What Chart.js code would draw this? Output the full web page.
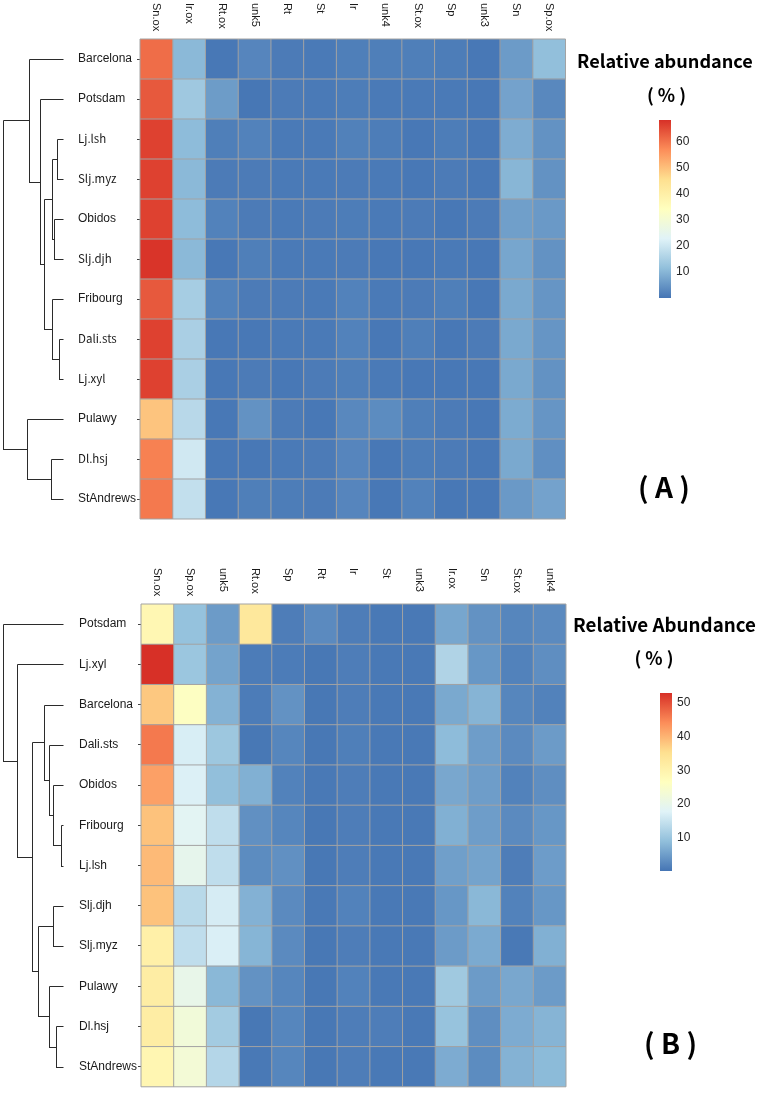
<!DOCTYPE html>
<html><head><meta charset="utf-8">
<script src="https://cdn.jsdelivr.net/npm/chart.js@4.4.1/dist/chart.umd.min.js"></script>
<style>
html,body{margin:0;padding:0;background:#fff;}
#wrap{position:relative;width:760px;height:1094px;overflow:hidden;}
canvas{position:absolute;left:0;display:block;}
#cA{top:0;} #cB{top:547px;}
</style></head><body>
<div id="wrap"><canvas id="cA" width="760" height="547"></canvas><canvas id="cB" width="760" height="547"></canvas></div>
<script>
// ---------- Panel A data ----------
const colsA = ['Sn.ox','Ir.ox','Rt.ox','unk5','Rt','St','Ir','unk4','St.ox','Sp','unk3','Sn','Sp.ox'];
const rowsA = ['Barcelona','Potsdam','Lj.lsh','Slj.myz','Obidos','Slj.djh','Fribourg','Dali.sts','Lj.xyl','Pulawy','Dl.hsj','StAndrews'];
const a_Barcelona = [61, 10.5, 0.5, 2.5, 1, 0.8, 1.5, 1.5, 1.5, 1.2, 0.5, 5.8, 11.5];
const a_Potsdam   = [63.5, 13.5, 6, 0.3, 1, 0.8, 1.2, 0.8, 0.8, 0.8, 0.5, 7, 3];
const a_Ljlsh     = [66.4, 11, 1.5, 2, 0.8, 0.8, 1.8, 1.2, 0.5, 1.2, 0.5, 8.5, 4.5];
const a_Sljmyz    = [66.4, 10.5, 1, 1, 0.8, 0.8, 1, 0.8, 0.5, 1, 0.5, 10, 4.5];
const a_Obidos    = [66.4, 11, 2, 1, 0.8, 1, 1.2, 0.8, 1, 0.5, 1, 6.5, 5.5];
const a_Sljdjh    = [68, 10.5, 0.5, 1.5, 0.8, 0.8, 1, 0.5, 0.5, 0.8, 0.5, 7.5, 4.5];
const a_Fribourg  = [63.5, 14.5, 2, 1, 1, 0.8, 2, 0.8, 1, 1.5, 0.5, 8, 5];
const a_Dalists   = [66.4, 15, 0.5, 0.5, 0.8, 0.8, 2, 0.5, 1.5, 0.5, 1, 8, 5];
const a_Ljxyl     = [66.4, 15, 0.5, 1, 0.5, 1, 1.5, 0.8, 0.5, 0.5, 0.5, 8, 4.5];
const a_Pulawy    = [49.5, 17, 0.5, 4.5, 1, 0.5, 3, 3.5, 1.5, 1, 0.5, 8.3, 5];
const a_Dlhsj     = [58.6, 20.5, 0.5, 0.5, 0.8, 1, 2.5, 0.5, 1.2, 1, 0.5, 8, 4];
const a_StAndrews = [59.5, 18.5, 0.5, 1.5, 1.2, 1, 2.5, 0.5, 2, 0.5, 0.5, 5.5, 7];
const valuesA = [a_Barcelona,a_Potsdam,a_Ljlsh,a_Sljmyz,a_Obidos,a_Sljdjh,a_Fribourg,a_Dalists,a_Ljxyl,a_Pulawy,a_Dlhsj,a_StAndrews];
// hclust-style merges (negative = leaf, positive = earlier cluster) and heights
const mergeA  = [[-3,-4],[-5,-6],[-8,-9],[1,2],[-7,3],[-11,-12],[4,5],[-2,7],[-1,8],[-10,6],[9,10]];
const heightA = [5.7, 9, 4, 11.3, 11.3, 12.3, 19.3, 22.7, 34, 36.3, 60.5];
const legendTicksA = [10,20,30,40,50,60];
const legendRangeA = [0, 68.5];

// ---------- Panel B data ----------
const colsB = ['Sn.ox','Sp.ox','unk5','Rt.ox','Sp','Rt','Ir','St','unk3','Ir.ox','Sn','St.ox','unk4'];
const rowsB = ['Potsdam','Lj.xyl','Barcelona','Dali.sts','Obidos','Fribourg','Lj.lsh','Slj.djh','Slj.myz','Pulawy','Dl.hsj','StAndrews'];
const b_Potsdam   = [28.8, 9.3, 4.5, 33, 1, 2.5, 1, 0.5, 0.5, 5.8, 3.5, 2, 2.5];
const b_Ljxyl     = [53, 10, 5.5, 0.8, 0.8, 0.3, 1, 0.5, 0.5, 12.3, 4, 1.5, 3];
const b_Barcelona = [37.9, 26, 7.3, 0.8, 3.5, 0.3, 1, 0.5, 0.5, 6.2, 7.5, 2, 1.5];
const b_Dalists   = [46.1, 16.8, 10.2, 0.3, 2, 0.3, 1.2, 0.5, 0.5, 8.5, 4.8, 2.5, 4.5];
const b_Obidos    = [42.1, 17.2, 8.9, 7, 1.5, 0.5, 1, 0.5, 0.5, 6, 4.8, 1.5, 3];
const b_Fribourg  = [38.5, 18.5, 14, 3.2, 2, 0.3, 1, 0.5, 0.5, 7, 4.8, 2.5, 4];
const b_Ljlsh     = [39.4, 19.5, 14, 2.7, 3.2, 0.3, 1, 0.5, 0.5, 5, 5.5, 1, 4.7];
const b_Sljdjh    = [38.5, 13.2, 16.5, 7.2, 2.5, 0.5, 1.5, 0.5, 0.5, 4, 8, 1.5, 4];
const b_Sljmyz    = [30.8, 14, 17, 7.6, 2.5, 0.3, 1, 0.5, 0.5, 4.5, 6.3, 0.5, 7];
const b_Pulawy    = [31.5, 20, 8, 3.5, 2, 0.3, 1.5, 0.5, 0.5, 10.5, 4.5, 6, 4.5];
const b_Dlhsj     = [31.5, 22.5, 10.8, 0.3, 2, 0.3, 1, 1, 0.5, 9.5, 3, 6.5, 7.5];
const b_StAndrews = [29, 23, 12.8, 0.5, 2, 0.3, 1, 0.5, 0.5, 6.5, 2.7, 7.3, 8.3];
const valuesB = [b_Potsdam,b_Ljxyl,b_Barcelona,b_Dalists,b_Obidos,b_Fribourg,b_Ljlsh,b_Sljdjh,b_Sljmyz,b_Pulawy,b_Dlhsj,b_StAndrews];
const mergeB  = [[-6,-7],[-11,-12],[-8,-9],[-5,1],[-4,4],[-10,2],[-3,5],[3,6],[7,8],[-2,9],[-1,10]];
const heightB = [2, 7, 9.7, 9.7, 13.7, 13.7, 19.3, 25.3, 30.7, 45.7, 60.5];
const legendTicksB = [10,20,30,40,50];
const legendRangeB = [0, 53];

// ---------- colour scale (rev RdYlBu, 7) ----------
const palette = ['#4575B4','#91BFDB','#E0F3F8','#FFFFBF','#FEE090','#FC8D59','#D73027'];
function hex2rgb(h){return [parseInt(h.slice(1,3),16),parseInt(h.slice(3,5),16),parseInt(h.slice(5,7),16)];}
const palRGB = palette.map(hex2rgb);
function colorFor(v, range){
  let t = (v - range[0]) / (range[1] - range[0]);
  t = Math.max(0, Math.min(1, t));
  const p = t * (palRGB.length - 1);
  const i = Math.min(palRGB.length - 2, Math.floor(p));
  const f = p - i;
  const a = palRGB[i], b = palRGB[i+1];
  const c = a.map((x,k)=>Math.round(x + (b[k]-x)*f));
  return `rgb(${c[0]},${c[1]},${c[2]})`;
}

function fitFont(ctx, text, weight, family, maxSize, target){
  ctx.font = `${weight} 20px ${family}`;
  const w = ctx.measureText(text).width;
  const s = Math.min(maxSize, 20 * target / w);
  return `${weight} ${s.toFixed(2)}px ${family}`;
}

const heatPlugin = {
  id: 'heat',
  afterDatasetsDraw(chart, args, o){
    const {ctx, chartArea: ca, scales: {x, y}} = chart;
    const nC = o.cols.length, nR = chart.data.labels.length;
    ctx.save();
    // cell borders
    ctx.strokeStyle = '#A3A3A3'; ctx.lineWidth = 1;
    ctx.beginPath();
    for (let c = 0; c <= nC; c++){ const px = x.getPixelForValue(c); ctx.moveTo(px, ca.top); ctx.lineTo(px, ca.bottom); }
    for (let r = 0; r <= nR; r++){ const py = y.getPixelForValue(r - 0.5); ctx.moveTo(ca.left, py); ctx.lineTo(ca.right, py); }
    ctx.stroke();
    ctx.restore();
  },
  afterDraw(chart, args, o){
    const {ctx, chartArea: ca, scales: {x, y}} = chart;
    ctx.save();
    // column labels (rotated, reading downward)
    ctx.fillStyle = '#1a1a1a';
    ctx.font = '11px "Liberation Sans", Arial, sans-serif';
    ctx.textAlign = 'left'; ctx.textBaseline = 'middle';
    o.cols.forEach((c, i) => {
      const px = x.getPixelForValue(i + 0.5);
      ctx.save(); ctx.translate(px, ca.top - o.colLabelGap); ctx.rotate(Math.PI / 2);
      ctx.fillText(c, 0, 0); ctx.restore();
    });
    // dendrogram
    const leafX = ca.left - o.dendroGap;
    const pos = [];
    const node = id => id < 0 ? {x: leafX, y: y.getPixelForValue(-id - 1)} : pos[id - 1];
    const snap = v => Math.round(v) + 0.5;
    ctx.strokeStyle = '#2b2b2b'; ctx.lineWidth = 1;
    ctx.beginPath();
    o.merges.forEach((m, k) => {
      const a = node(m[0]), b = node(m[1]);
      const hx = leafX - o.heights[k] * o.dendroUnit;
      ctx.moveTo(snap(a.x), snap(a.y)); ctx.lineTo(snap(hx), snap(a.y));
      ctx.moveTo(snap(b.x), snap(b.y)); ctx.lineTo(snap(hx), snap(b.y));
      ctx.moveTo(snap(hx), snap(a.y)); ctx.lineTo(snap(hx), snap(b.y) + 0.5);
      pos[k] = {x: hx, y: (a.y + b.y) / 2};
    });
    ctx.stroke();
    // legend
    const L = o.legend;
    ctx.fillStyle = '#000';
    ctx.textAlign = 'center'; ctx.textBaseline = 'middle';
    ctx.font = fitFont(ctx, L.title, 'bold', '"Noto Sans CJK SC", "Noto Sans", sans-serif', 21, L.titleW);
    ctx.fillText(L.title, L.titleX, L.titleY);
    ctx.font = 'bold 18px "Noto Sans CJK SC", "Noto Sans", sans-serif';
    ctx.fillText('( % )', L.pctX, L.pctY);
    // colour bar
    const g = ctx.createLinearGradient(0, L.barY + L.barH, 0, L.barY);
    palette.forEach((p, i) => g.addColorStop(i / (palette.length - 1), p));
    ctx.fillStyle = g;
    ctx.fillRect(L.barX, L.barY, L.barW, L.barH);
    ctx.fillStyle = '#262626';
    ctx.font = '12px "Liberation Sans", Arial, sans-serif';
    ctx.textAlign = 'left';
    const [mn, mx] = L.range;
    L.ticks.forEach(t => {
      const py = L.barY + L.barH - (t - mn) / (mx - mn) * L.barH;
      ctx.fillText(String(t), L.barX + L.barW + 5, py);
    });
    // panel tag
    ctx.fillStyle = '#000'; ctx.textAlign = 'center';
    ctx.font = 'bold 28px "Noto Sans CJK SC", "Noto Sans", sans-serif';
    ctx.fillText(L.tag, L.tagX, L.tagY);
    ctx.restore();
  }
};

function makePanel(id, rows, cols, values, merges, heights, range, ticks, lay, legend, narrow){
  const datasets = cols.map((c, ci) => ({
    label: c,
    data: rows.map((r, ri) => ({x: [ci, ci + 1], y: r, v: values[ri][ci]})),
    backgroundColor: ctx => colorFor(ctx.raw.v, range),
    borderWidth: 0, grouped: false, barPercentage: 1, categoryPercentage: 1
  }));
  return new Chart(document.getElementById(id), {
    type: 'bar',
    data: {labels: rows, datasets},
    options: {
      responsive: false, animation: false, indexAxis: 'y',
      layout: {padding: lay.padding},
      plugins: {
        legend: {display: false}, tooltip: {enabled: false},
        heat: {cols, merges, heights, colLabelGap: 36, dendroGap: lay.dendroGap, dendroUnit: 1,
               legend: Object.assign({range, ticks}, legend)}
      },
      scales: {
        x: {type: 'linear', min: 0, max: cols.length, display: false},
        y: {type: 'category', offset: true,
            grid: {display: true, drawOnChartArea: false, drawTicks: true, tickLength: 3, tickColor: '#444', offset: false},
            border: {display: false},
            ticks: {autoSkip: false, crossAlign: 'far', padding: 0, color: '#1a1a1a',
                    font: c => (narrow.includes(rows[c.index]) ?
                      {family: '"Noto Sans CJK SC", "Liberation Sans", sans-serif', size: 11.5} :
                      {family: '"Liberation Sans", Arial, sans-serif', size: 12})},
            afterFit: s => { s.width = 62; }}
      }
    },
    plugins: [heatPlugin]
  });
}

makePanel('cA', rowsA, colsA, valuesA, mergeA, heightA, legendRangeA, legendTicksA,
  {padding: {left: 78, right: 194.5, top: 39, bottom: 28}, dendroGap: 77},
  {title: 'Relative abundance', titleW: 176, titleX: 665, titleY: 61, pctX: 666.5, pctY: 95,
   barX: 659, barY: 120, barW: 12, barH: 178, tag: '( A )', tagX: 664, tagY: 487},
  ['Lj.lsh','Slj.myz','Slj.djh','Dali.sts','Lj.xyl','Dl.hsj']);

makePanel('cB', rowsB, colsB, valuesB, mergeB, heightB, legendRangeB, legendTicksB,
  {padding: {left: 79, right: 194, top: 57, bottom: 5}, dendroGap: 78},
  {title: 'Relative Abundance', titleW: 183, titleX: 664.5, titleY: 78, pctX: 654, pctY: 111,
   barX: 660, barY: 146, barW: 12, barH: 178, tag: '( B )', tagX: 670.5, tagY: 496},
  []);
</script>
</body></html>
